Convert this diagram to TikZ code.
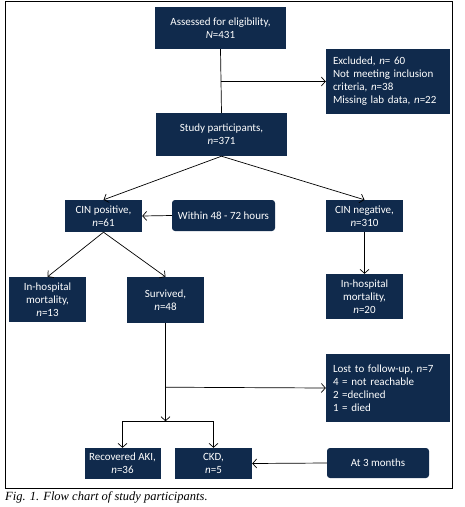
\documentclass[tikz,border=0pt]{standalone}
\usepackage{fontspec}
\setmainfont{Carlito}
\newfontfamily\capfont{Liberation Serif}
\usepackage{xcolor}
\usetikzlibrary{arrows.meta,positioning,calc}

\definecolor{navy}{HTML}{102A4C}

\begin{document}
\begin{tikzpicture}[x=1pt,y=-1pt,
    box/.style={fill=navy,text=white,align=center,inner sep=2pt,font=\fontsize{11}{13}\selectfont},
    note/.style={box,align=left,text width=110pt,inner xsep=7pt,inner ysep=5pt},
    tag/.style={box,rounded corners=3pt},
    arr/.style={-{Straight Barb[length=4pt,width=9pt]},line width=0.7pt},
    ln/.style={line width=0.7pt}]
  \useasboundingbox (0,0) rectangle (465,507);
  \draw[line width=0.9pt] (5,1) rectangle (452,488);
  \node[box,minimum width=131pt,minimum height=42pt] (assess) at (220.5,28) {Assessed for eligibility,\\\textit{N}=431};
  \node[note,minimum height=65pt] (excl) at (388,81.5) {Excluded, \textit{n}= 60\\Not meeting inclusion\\criteria, \textit{n}=38\\Missing lab data, \textit{n}=22};
  \node[box,minimum width=131pt,minimum height=43pt] (study) at (221.5,134.5) {Study participants,\\\textit{n}=371};
  \node[box,minimum width=77pt,minimum height=32pt] (cinpos) at (103.5,216) {CIN positive,\\\textit{n}=61};
  \node[tag,minimum width=103pt,minimum height=31pt] (within) at (223.5,215.5) {Within 48 - 72 hours};
  \node[box,minimum width=77pt,minimum height=32pt] (cinneg) at (364.5,216) {CIN negative,\\\textit{n}=310};
  \node[box,minimum width=77pt,minimum height=45pt] (mortl) at (47.5,299.5) {In-hospital\\mortality,\\\textit{n}=13};
  \node[box,minimum width=77pt,minimum height=46pt] (surv) at (165.5,300) {Survived,\\\textit{n}=48};
  \node[box,minimum width=77pt,minimum height=45pt] (mortr) at (364.5,296.5) {In-hospital\\mortality,\\\textit{n}=20};
  \node[note,minimum height=68pt] (lost) at (388,388) {Lost to follow-up, \textit{n}=7\\4 = not reachable\\2 =declined\\1 = died};
  \node[box,minimum width=76pt,minimum height=31pt] (recov) at (122.5,463.5) {Recovered AKI,\\\textit{n}=36};
  \node[box,minimum width=77pt,minimum height=31pt] (ckd) at (213.5,463.5) {CKD,\\\textit{n}=5};
  \node[tag,minimum width=102pt,minimum height=30pt] (three) at (378,463) {At 3 months};
  \node[anchor=north west,inner sep=0pt,font=\capfont\itshape\fontsize{12.5}{14}\selectfont] (cap) at (5,491) {Fig. 1. Flow chart of study participants.};
  % connectors
  \coordinate (j1) at (assess.south |- excl.west);
  \draw[ln] (assess.south) -- (study.north);
  \draw[arr] (j1) -- (excl.west);
  \draw[arr] (study.south) -- (cinpos.north);
  \draw[arr] (study.south) -- (cinneg.north);
  \draw[arr] (within.west) -- (cinpos.east);
  \draw[arr] (cinpos.south) -- (mortl.north);
  \draw[arr] (cinpos.south) -- (surv.north);
  \draw[arr] (cinneg.south) -- (mortr.north);
  \coordinate (j2) at ($(surv.south)+(0,64)$);
  \coordinate (j3) at ($(surv.south)+(0,98)$);
  \coordinate (j4) at (recov.north |- j3);
  \coordinate (j5) at (ckd.north |- j3);
  \draw[arr] (surv.south) -- (j3);
  \draw[arr] (j2) -- (lost.west);
  \draw[ln] (j4) -- (j5);
  \draw[arr] (j4) -- (recov.north);
  \draw[arr] (j5) -- (ckd.north);
  \draw[arr] (three.west) -- (ckd.east);
\end{tikzpicture}
\end{document}
